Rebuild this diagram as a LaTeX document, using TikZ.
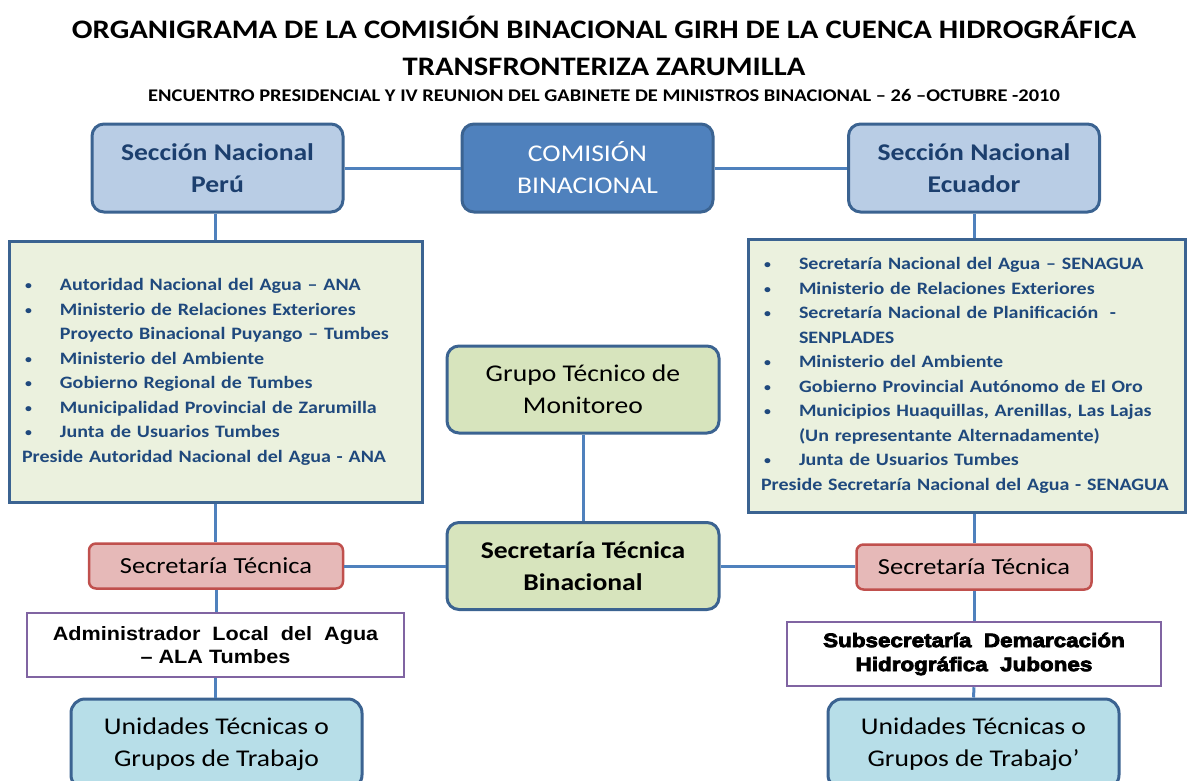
\documentclass[tikz,border=0pt]{standalone}
\usepackage{fontspec}
\setmainfont{Carlito}[FakeStretch=1.15]
\newfontfamily\arialfont{Liberation Sans}[FakeStretch=1.12]
\newfontfamily\blackfont{Liberation Sans}[FakeStretch=1.15,FakeBold=4]
\usepackage{xcolor}
\usetikzlibrary{positioning}
\definecolor{lineblue}{HTML}{4F81BD}
\definecolor{borderblue}{HTML}{3B6391}
\definecolor{seccfill}{HTML}{B9CDE5}
\definecolor{seccText}{HTML}{1C3F6E}
\definecolor{listfill}{HTML}{EBF1DE}
\definecolor{listText}{HTML}{1F497D}
\definecolor{greenfill}{HTML}{D7E4BD}
\definecolor{redfill}{HTML}{E6B9B8}
\definecolor{redborder}{HTML}{C0504D}
\definecolor{purpleborder}{HTML}{8064A2}
\definecolor{cyanfill}{HTML}{B7DEE8}
\newcommand{\itembul}{\makebox[38pt][l]{\hspace{3pt}\raisebox{1pt}{\fontsize{12}{12}\selectfont\textbullet}}}
\newcommand{\itemgap}{\hspace*{38pt}}

\begin{document}
\begin{tikzpicture}[x=1pt,y=-1pt,
  boxtext/.style={font=\fontsize{24}{32}\selectfont,align=center,inner sep=0pt},
  seccion/.style={boxtext,draw=borderblue,line width=3pt,fill=seccfill,rounded corners=12pt,
    text=seccText,font=\fontsize{24}{32}\selectfont\bfseries,minimum width=251,minimum height=88},
  comision/.style={seccion,fill=lineblue,text=white,font=\fontsize{24}{32}\selectfont},
  listbox/.style={draw=borderblue,line width=3pt,fill=listfill,text=listText,align=left,
    font=\fontsize{17.4}{24.5}\selectfont\bfseries,inner xsep=13pt,inner ysep=0pt},
  grupo/.style={boxtext,draw=borderblue,line width=3pt,fill=greenfill,rounded corners=12pt,
    minimum width=272,minimum height=87},
  sectec/.style={boxtext,draw=redborder,line width=2.5pt,fill=redfill,rounded corners=7pt,
    font=\fontsize{23}{30}\selectfont,minimum height=45},
  admin/.style={draw=purpleborder,line width=2.5pt,fill=white,align=center,inner sep=0pt,
    font=\arialfont\bfseries\fontsize{19.3}{23}\selectfont,minimum height=64},
  unidad/.style={boxtext,draw=borderblue,line width=3pt,fill=cyanfill,rounded corners=14pt,
    minimum width=291,minimum height=90},
  conn/.style={draw=lineblue,line width=3pt}]
\useasboundingbox (0,0) rectangle (1187,780);
\clip (0,0) rectangle (1187,780);

% titulo
\node[font=\fontsize{26.7}{37}\selectfont\bfseries,align=center] (title) at (604,45.5)
  {ORGANIGRAMA DE LA COMISIÓN BINACIONAL GIRH DE LA CUENCA HIDROGRÁFICA\\TRANSFRONTERIZA ZARUMILLA};
\node[font=\fontsize{17.8}{20}\selectfont\bfseries] (subtitle) at (604,95)
  {ENCUENTRO PRESIDENCIAL Y IV REUNION DEL GABINETE DE MINISTROS BINACIONAL -- 26 --OCTUBRE -2010};

% fila superior
\node[seccion] (peru) at (217.5,168) {Sección Nacional\\Perú};
\node[comision] (comision) at (587.5,168) {COMISIÓN\\BINACIONAL};
\node[seccion] (ecuador) at (974,168) {Sección Nacional\\Ecuador};

% listas
\node[listbox,minimum width=413,minimum height=261,text width=387] (peruList) at (215.5,372)
  {\itembul Autoridad Nacional del Agua -- ANA\\
   \itembul Ministerio de Relaciones Exteriores\\
   \itemgap Proyecto Binacional Puyango -- Tumbes\\
   \itembul Ministerio del Ambiente\\
   \itembul Gobierno Regional de Tumbes\\
   \itembul Municipalidad Provincial de Zarumilla\\
   \itembul Junta de Usuarios Tumbes\\
   Preside Autoridad Nacional del Agua - ANA};
\node[listbox,minimum width=437,minimum height=273,text width=411] (ecuList) at (966.5,375.5)
  {\itembul Secretaría Nacional del Agua -- SENAGUA\\
   \itembul Ministerio de Relaciones Exteriores\\
   \itembul Secretaría Nacional de Planificación \ -\\
   \itemgap SENPLADES\\
   \itembul Ministerio del Ambiente\\
   \itembul Gobierno Provincial Autónomo de El Oro\\
   \itembul Municipios Huaquillas, Arenillas, Las Lajas\\
   \itemgap (Un representante Alternadamente)\\
   \itembul Junta de Usuarios Tumbes\\
   Preside Secretaría Nacional del Agua - SENAGUA};

% centro
\node[grupo] (grupo) at (583,389.5) {Grupo Técnico de\\Monitoreo};
\node[grupo,font=\fontsize{24}{32}\selectfont\bfseries] (stb) at (583,566) {Secretaría Técnica\\Binacional};

% secretarias tecnicas
\node[sectec,minimum width=254] (peruST) at (216,566) {Secretaría Técnica};
\node[sectec,minimum width=235] (ecuST) at (974,567) {Secretaría Técnica};

% administraciones
\node[admin,minimum width=377] (ala) at (215.5,645) {Administrador\ \ Local\ \ del\ \ Agua\\– ALA Tumbes};
\node[admin,minimum width=374,font=\blackfont\bfseries\fontsize{19.5}{24}\selectfont] (subsec) at (974,654)
  {Subsecretaría\ \ Demarcación\\Hidrográfica\ \ Jubones};

% unidades
\node[unidad] (peruUT) at (216.5,744) {Unidades Técnicas o\\Grupos de Trabajo};
\node[unidad] (ecuUT) at (973.5,744) {Unidades Técnicas o\\Grupos de Trabajo’};

% conectores
\path[conn]
(peru) edge (comision)
(comision) edge (ecuador)
(grupo) edge (stb)
(stb) edge (peruST)
(stb) edge (ecuST.west |- stb.east);
\draw[conn] (peru.south -| peruList.north) -- (peruList.north);
\draw[conn] (peruList.south) -- (peruST.north -| peruList.south);
\draw[conn] (ecuador.south) -- (ecuador.south |- ecuList.north);
\draw[conn] (ecuST.north |- ecuList.south) -- (ecuST.north);
\draw[conn] (peruST.south) -- (ala.north -| peruST.south);
\draw[conn] (ala.south) -- (peruUT.north -| ala.south);
\draw[conn] (ecuST.south) -- (subsec.north);
\draw[conn] (subsec.south) -- (ecuUT.north);
\end{tikzpicture}
\end{document}
